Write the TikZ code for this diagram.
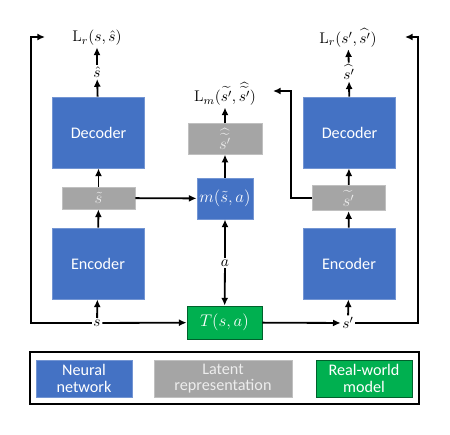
\documentclass[tikz,border=0pt]{standalone}
\usepackage{amsmath}
\usepackage{fontspec}
\newfontfamily\boxfont{Carlito}
\usetikzlibrary{arrows.meta,positioning}
\usetikzlibrary{calc}
\definecolor{nnblue}{HTML}{4472C4}
\definecolor{latgray}{HTML}{A5A5A5}
\definecolor{rwgreen}{HTML}{00B050}
\newcommand{\boxsize}{\fontsize{11.5}{12.5}\selectfont}
\tikzset{
  nnbox/.style={draw=nnblue!75!white, fill=nnblue, text=white, font=\boxfont\boxsize, line width=0.6pt, align=center},
  latbox/.style={draw=latgray!70!white, fill=latgray, text=white!93!black, font=\boxfont\boxsize, line width=0.6pt, align=center},
  rwbox/.style={draw=rwgreen!55!black, fill=rwgreen, text=white, font=\boxfont\boxsize, line width=0.6pt, align=center},
  flow/.style={-{Latex[length=5.5pt,width=5pt]}, line width=1.3pt},
  lbl/.style={inner sep=1pt, font=\fontsize{11}{12}\selectfont}
}

\begin{document}
\begin{tikzpicture}[x=0.025cm,y=-0.025cm]
\useasboundingbox (0,0) rectangle (450,435);
% left autoencoder
\node[nnbox, minimum width=2.3cm, minimum height=1.775cm] (decl) at (98.5,132.5) {Decoder};
\node[nnbox, minimum width=2.3cm, minimum height=1.775cm] (encl) at (98,263.5) {Encoder};
\node[latbox, minimum width=1.825cm, minimum height=0.55cm] (latl) at (98.5,198) {$\tilde{s}$};
\node[lbl] (shat) at (97,72) {$\hat{s}$};
\node[lbl] (lossl) at (97,38) {$\mathrm{L}_r(s,\hat{s})$};
\node[lbl, fill=white] (s) at (97,323) {$s$};
% right autoencoder
\node[nnbox, minimum width=2.3cm, minimum height=1.775cm] (decr) at (349.5,132.5) {Decoder};
\node[nnbox, minimum width=2.3cm, minimum height=1.775cm] (encr) at (349,263.5) {Encoder};
\node[latbox, minimum width=1.825cm, minimum height=0.55cm] (latr) at (348.5,198) {$\widetilde{s'}$};
\node[lbl] (shatp) at (349,72) {$\widehat{s'}$};
\node[lbl] (lossr) at (348,38) {$\mathrm{L}_r(s',\widehat{s'})$};
\node[lbl, fill=white] (sp) at (348,323) {$s'$};
% latent model
\node[nnbox, minimum width=1.4cm, minimum height=1.025cm, inner xsep=1pt] (model) at (225,198.5) {$m(\tilde{s},a)$};
\node[latbox, minimum width=1.85cm, minimum height=0.55cm] (latm) at (225,139) {$\widehat{\widetilde{s'}}$};
\node[lbl] (lossm) at (225,94) {$\mathrm{L}_m(\widetilde{s'},\widehat{\widetilde{s'}})$};
\node[lbl] (act) at (225,263) {$a$};
\node[rwbox, minimum width=1.875cm, minimum height=0.825cm] (world) at (224.5,322.5) {$T(s,a)$};
% free ends
\coordinate (endl) at (45,37);
\coordinate (endr) at (405,37);
\coordinate (endm) at (273,91);

\draw[flow] (s) -- (encl);
\draw[flow] (encl) -- (latl);
\draw[flow] (latl) -- (decl);
\draw[flow] (decl) -- (shat);
\draw[flow] (shat) -- (lossl);
\draw[flow] (sp) -- (encr);
\draw[flow] (encr) -- (latr);
\draw[flow] (latr) -- (decr);
\draw[flow] (decr) -- (shatp);
\draw[flow] (shatp) -- (lossr);
\draw[flow] (latl) -- (model);
\draw[flow] (model) -- (latm);
\draw[flow] (latm) -- (lossm);
\draw[flow] (act) -- (model);
\draw[flow] (act) -- (world);
\draw[flow] (s) -- (world);
\draw[flow] (world) -- (sp);
\draw[flow] (s.west) -| (31,37) -- (endl);
\draw[flow] (sp.east) -| (418,37) -- (endr);
\draw[flow] (latr.west) -| (291,91) -- (endm);

% legend
\draw[line width=1.5pt] (30,352) rectangle (419,404);
\node[nnbox, minimum width=2.4cm, minimum height=0.925cm, inner sep=1pt] (legnn) at (84,378.5) {Neural\\[-1pt]network};
\node[latbox, minimum width=3.45cm, minimum height=0.925cm, inner sep=1pt] (leglat) at (223,378.5) {Latent\\[-1pt]representation};
\node[rwbox, minimum width=2.4cm, minimum height=0.925cm, inner sep=1pt] (legrw) at (364,378.5) {Real-world\\[-1pt]model};
\end{tikzpicture}
\end{document}
